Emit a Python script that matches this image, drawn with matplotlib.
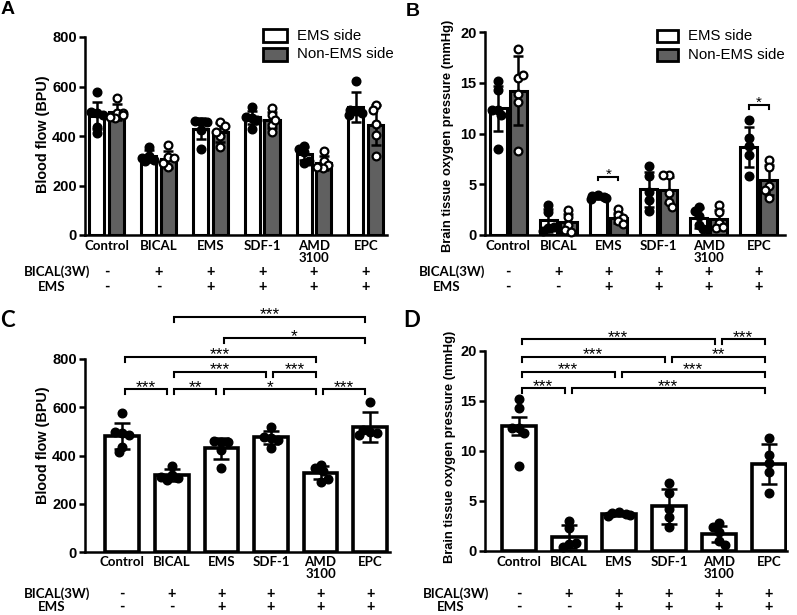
import numpy as np
import matplotlib
matplotlib.use('Agg')
import matplotlib.pyplot as plt
from matplotlib.patches import Rectangle
from matplotlib.transforms import blended_transform_factory

# ---------------- data ----------------
categories = ['Control', 'BICAL', 'EMS', 'SDF-1', 'AMD\n3100', 'EPC']
bical_row = ['-', '+', '+', '+', '+', '+']
ems_row = ['-', '-', '+', '+', '+', '+']
legend_labels = ['EMS side', 'Non-EMS side']

# Blood flow (BPU)
bf_ems_mean = [482, 319, 430, 475, 329, 517]
bf_ems_sd = [54, 24, 43, 28, 27, 62]
bf_ems_pts = [[577, 494, 485, 497, 437, 413],
              [356, 318, 305, 300, 312],
              [457, 460, 457, 423, 347],
              [517, 474, 464, 475, 430],
              [361, 347, 335, 291, 301],
              [623, 499, 492, 506, 485]]
bf_non_mean = [496, 306, 415, 465, 290, 444]
bf_non_sd = [32, 35, 38, 32, 28, 80]
bf_non_pts = [[552, 492, 492, 471, 478, 485],
              [364, 316, 310, 276, 290],
              [455, 400, 354, 417, 440],
              [512, 485, 444, 417, 465],
              [341, 300, 283, 269, 275],
              [525, 505, 448, 404, 319]]

# Brain tissue oxygen pressure (mmHg)
ox_ems_mean = [12.48, 1.45, 3.7, 4.5, 1.7, 8.7]
ox_ems_sd_b = [2.2, 1.15, 0.15, 1.75, 1.0, 1.97]
ox_ems_sd_d = [0.9, 1.17, 0.15, 1.75, 0.8, 1.97]
ox_ems_pts = [[14.3, 15.2, 12.3, 12.3, 11.8, 8.5],
              [3.0, 2.3, 0.7, 0.4, 0.8],
              [3.9, 3.8, 3.7, 3.5, 3.6],
              [6.8, 5.8, 4.2, 3.4, 2.4],
              [2.8, 2.4, 1.9, 1.0, 0.6],
              [11.3, 9.6, 8.8, 7.9, 5.8]]
ox_non_mean = [14.2, 1.25, 1.7, 4.45, 1.6, 5.4]
ox_non_sd = [3.4, 0.8, 0.5, 1.25, 0.86, 1.5]
ox_non_pts = [[18.3, 15.5, 15.8, 13.9, 13.1, 8.3],
              [2.5, 1.8, 1.0, 0.5, 0.3],
              [2.6, 2.0, 1.7, 1.4, 1.1],
              [5.9, 5.9, 4.1, 3.3, 2.8],
              [3.0, 2.3, 1.2, 0.7, 0.8],
              [7.4, 6.7, 4.8, 4.4, 3.6]]

# significance: (group i, group j, level, label)
sig_b = [(2, 2, 5.74, '*'), (5, 5, 12.8, '*')]
sig_c = [(1, 5, 974, '***'), (2, 5, 886, '*'), (0, 4, 810, '***'),
         (1, 3, 747, '***'), (3, 4, 747, '***'),
         (0, 1, 674, '***'), (1, 2, 674, '**'), (2, 4, 674, '*'), (4, 5, 674, '***')]
sig_d = [(0, 4, 21.17, '***'), (4, 5, 21.17, '***'),
         (0, 3, 19.43, '***'), (3, 5, 19.43, '**'),
         (0, 2, 17.93, '***'), (2, 5, 17.93, '***'),
         (0, 1, 16.27, '***'), (1, 5, 16.27, '***')]

# ---------------- figure ----------------
W, H = 797, 615
fig = plt.figure(figsize=(W / 100, H / 100), dpi=100)

def fx(x):
    return x / W

def fy(y):
    return 1 - y / H

GRAY = '#606060'
ARIAL = 'Liberation Sans'
CALIBRI = 'Lato'
EDGE = 2.2
SPINE = 1.8

def make_ax(l, t, r, b):
    return fig.add_axes([fx(l), fy(b), fx(r) - fx(l), fy(t) - fy(b)])

def style(ax, xlim, ylim, yticks):
    ax.set_xlim(*xlim)
    ax.set_ylim(*ylim)
    ax.patch.set_alpha(0)
    for s in ['top', 'right']:
        ax.spines[s].set_visible(False)
    for s in ['left', 'bottom']:
        ax.spines[s].set_linewidth(SPINE)
    ax.set_xticks([])
    ax.set_yticks(yticks)
    ax.set_yticklabels([str(t) for t in yticks], fontfamily=ARIAL,
                       fontweight='bold', fontsize=10.5)
    ax.tick_params(axis='y', length=4, width=SPINE, pad=2)

def swarm(ax, xc, vals, diam_px, max_off):
    t = ax.transData
    ys = [t.transform((xc, v))[1] for v in vals]
    ppx = t.transform((1, 0))[0] - t.transform((0, 0))[0]
    placed = []
    offs = []
    flip = 1
    for k, yk in enumerate(ys):
        found = None
        for step in range(0, 60):
            cands = [0.0] if step == 0 else [flip * step * 1.0, -flip * step * 1.0]
            for dx in cands:
                if all((dx - px) ** 2 + (yk - py) ** 2 >= diam_px ** 2 for px, py in placed):
                    found = dx
                    break
            if found is not None:
                break
        flip = -flip
        placed.append((found, yk))
        o = found / ppx
        o = max(-max_off, min(max_off, o))
        offs.append(o)
    return xc + np.array(offs)

def points(ax, xc, vals, filled, max_off, diam_px=5.5):
    xs = swarm(ax, xc, vals, diam_px, max_off)
    if filled:
        ax.plot(xs, vals, 'o', ls='none', ms=6.2, mfc='black', mec='black',
                zorder=5, clip_on=False)
    else:
        ax.plot(xs, vals, 'o', ls='none', ms=5.6, mfc='white', mec='black',
                mew=1.6, zorder=5, clip_on=False)

def bracket(ax, x1, x2, y, leg, label, fs=12.5):
    ax.plot([x1, x1, x2, x2], [y - leg, y, y, y - leg], color='black',
            lw=1.5, clip_on=False, zorder=6, solid_joinstyle='miter')
    ax.annotate(label, xy=((x1 + x2) / 2, y), xytext=(0, 1.5),
                textcoords='offset points', ha='center', va='center',
                fontfamily=ARIAL, fontsize=fs, annotation_clip=False)

def bottom_table(ax, label_top, row1_y, row2_y, lab_x):
    tr = blended_transform_factory(ax.transData, fig.transFigure)
    for i, c in enumerate(categories):
        ax.text(i, fy(label_top), c, transform=tr, ha='center', va='top',
                fontfamily=CALIBRI, fontweight='bold', fontsize=9.5,
                linespacing=0.95, clip_on=False)
        ax.text(i, fy(row1_y), bical_row[i], transform=tr, ha='center',
                va='center', fontfamily=CALIBRI, fontweight='bold',
                fontsize=10.5, clip_on=False)
        ax.text(i, fy(row2_y), ems_row[i], transform=tr, ha='center',
                va='center', fontfamily=CALIBRI, fontweight='bold',
                fontsize=10.5, clip_on=False)
    fig.text(fx(lab_x), fy(row1_y), 'BICAL(3W)', ha='center', va='center',
             fontfamily=CALIBRI, fontweight='bold', fontsize=9.5)
    fig.text(fx(lab_x - 5), fy(row2_y), 'EMS', ha='center', va='center',
             fontfamily=CALIBRI, fontweight='bold', fontsize=9.5)

def legend(x0, y1, y2, w, h, tx):
    for yy, fc, lab in [(y1, 'white', legend_labels[0]), (y2, GRAY, legend_labels[1])]:
        fig.add_artist(Rectangle((fx(x0), fy(yy + h)), fx(w), h / H,
                                 transform=fig.transFigure, facecolor=fc,
                                 edgecolor='black', lw=2.0))
        fig.text(fx(tx), fy(yy + h / 2), lab, ha='left', va='center',
                 fontfamily=ARIAL, fontsize=10.8)

x = np.arange(len(categories))

# ---------------- Panel A ----------------
axA = make_ax(85, 37, 387, 235)
style(axA, (-0.42, 5.41), (0, 800), [0, 200, 400, 600, 800])
wA, oA = 0.29, 0.19
axA.bar(x - oA, bf_ems_mean, wA, color='white', edgecolor='black', lw=EDGE, zorder=2)
axA.bar(x + oA, bf_non_mean, wA, color=GRAY, edgecolor='black', lw=EDGE, zorder=2)
axA.errorbar(x - oA, bf_ems_mean, yerr=bf_ems_sd, fmt='none', ecolor='black',
             elinewidth=1.8, capsize=3.5, capthick=1.8, zorder=4)
axA.errorbar(x + oA, bf_non_mean, yerr=bf_non_sd, fmt='none', ecolor='black',
             elinewidth=1.8, capsize=3.5, capthick=1.8, zorder=4)
for i in range(len(categories)):
    points(axA, x[i] - oA, bf_ems_pts[i], True, 0.13)
    points(axA, x[i] + oA, bf_non_pts[i], False, 0.13)
fig.text(fx(43), fy(134), 'Blood flow (BPU)', rotation=90, ha='center', va='center',
         fontfamily=ARIAL, fontweight='bold', fontsize=10.4)
bottom_table(axA, 240, 272, 287, 57)
legend(263, 29, 48, 24, 13, 297)

# ---------------- Panel B ----------------
axB = make_ax(485, 32, 785, 235)
style(axB, (-0.46, 5.52), (0, 20), [0, 5, 10, 15, 20])
wB, oB = 0.34, 0.2
axB.bar(x - oB, ox_ems_mean, wB, color='white', edgecolor='black', lw=EDGE, zorder=2)
axB.bar(x + oB, ox_non_mean, wB, color=GRAY, edgecolor='black', lw=EDGE, zorder=2)
axB.errorbar(x - oB, ox_ems_mean, yerr=ox_ems_sd_b, fmt='none', ecolor='black',
             elinewidth=1.8, capsize=3.5, capthick=1.8, zorder=4)
axB.errorbar(x + oB, ox_non_mean, yerr=ox_non_sd, fmt='none', ecolor='black',
             elinewidth=1.8, capsize=3.5, capthick=1.8, zorder=4)
for i in range(len(categories)):
    points(axB, x[i] - oB, ox_ems_pts[i], True, 0.15)
    points(axB, x[i] + oB, ox_non_pts[i], False, 0.15)
for i, j, lvl, lab in sig_b:
    bracket(axB, i - oB, j + oB, lvl, 0.35, lab, fs=11)
fig.text(fx(448), fy(136), 'Brain tissue oxygen pressure (mmHg)', rotation=90,
         ha='center', va='center', fontfamily=ARIAL, fontweight='bold', fontsize=9.3)
bottom_table(axB, 240, 272, 287, 452)
legend(657, 30, 49, 21, 12, 688)

# ---------------- Panel C ----------------
axC = make_ax(85, 359, 390, 552)
style(axC, (-0.75, 5.40), (0, 800), [0, 200, 400, 600, 800])
wC = 0.68
axC.bar(x, bf_ems_mean, wC, color='white', edgecolor='black', lw=EDGE + 0.4, zorder=2)
axC.errorbar(x, bf_ems_mean, yerr=bf_ems_sd, fmt='none', ecolor='black',
             elinewidth=1.8, capsize=6, capthick=1.8, zorder=4)
for i in range(len(categories)):
    points(axC, x[i], bf_ems_pts[i], True, 0.22, diam_px=6.5)
for i, j, lvl, lab in sig_c:
    bracket(axC, i + 0.05, j - 0.1, lvl, 21, lab)
fig.text(fx(43), fy(445), 'Blood flow (BPU)', rotation=90, ha='center', va='center',
         fontfamily=ARIAL, fontweight='bold', fontsize=10.4)
bottom_table(axC, 556, 594, 607, 57)

# ---------------- Panel D ----------------
axD = make_ax(485, 351, 787, 551)
style(axD, (-0.68, 5.36), (0, 20), [0, 5, 10, 15, 20])
axD.bar(x, ox_ems_mean, wC, color='white', edgecolor='black', lw=EDGE + 0.4, zorder=2)
axD.errorbar(x, ox_ems_mean, yerr=ox_ems_sd_d, fmt='none', ecolor='black',
             elinewidth=1.8, capsize=6, capthick=1.8, zorder=4)
for i in range(len(categories)):
    points(axD, x[i], ox_ems_pts[i], True, 0.22, diam_px=6.5)
for i, j, lvl, lab in sig_d:
    bracket(axD, i + 0.05, j - 0.08, lvl, 0.5, lab)
fig.text(fx(450), fy(447), 'Brain tissue oxygen pressure (mmHg)', rotation=90,
         ha='center', va='center', fontfamily=ARIAL, fontweight='bold', fontsize=9.3)
bottom_table(axD, 556, 594, 607, 456)

# ---------------- panel letters ----------------
fig.text(fx(1), fy(10), 'A', ha='left', va='center', fontfamily=ARIAL,
         fontweight='bold', fontsize=14)
fig.text(fx(406), fy(11), 'B', ha='left', va='center', fontfamily=ARIAL,
         fontweight='bold', fontsize=14)
fig.text(fx(0), fy(320), 'C', ha='left', va='center', fontfamily=CALIBRI,
         fontweight='bold', fontsize=16)
fig.text(fx(403), fy(320), 'D', ha='left', va='center', fontfamily=CALIBRI,
         fontweight='bold', fontsize=16)

fig.savefig('out.png', dpi=100)
